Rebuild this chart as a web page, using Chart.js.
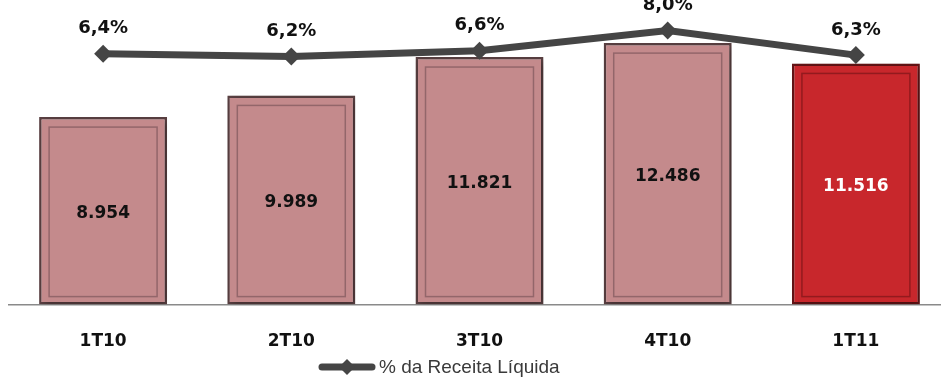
<!DOCTYPE html>
<html>
<head>
<meta charset="utf-8">
<script src="https://cdn.jsdelivr.net/npm/chart.js@4.4.0/dist/chart.umd.min.js"></script>
<style>
  html, body { margin: 0; padding: 0; background: #fff; overflow: hidden; }
  #wrap { position: relative; width: 950px; height: 378px; }
  #legend { position: absolute; left: 318px; top: 356px; height: 22px; display: flex; align-items: center;
    font-family: "Liberation Sans", Arial, sans-serif; font-size: 19px; color: #3a3a3a; }
  #legend canvas { margin-right: 3px; }
</style>
</head>
<body>
<div id="wrap">
  <canvas id="chart" width="950" height="378"></canvas>
  <div id="legend"><canvas id="legendIcon" width="58" height="18"></canvas><span>% da Receita Líquida</span></div>
</div>
<script>
const categories = ['1T10', '2T10', '3T10', '4T10', '1T11'];
const despesas = [8954, 9989, 11821, 12486, 11516];
const percentReceita = [6.4, 6.2, 6.6, 8.0, 6.3];
const lineLabel = '% da Receita Líquida';

const pink = '#c48a8c', pinkEdge = '#5a4042', pinkInner = '#93666a';
const red = '#c8272c', redEdge = '#661416', redInner = '#931a1e';
const barFill = categories.map((c, i) => i === categories.length - 1 ? red : pink);
const barEdge = categories.map((c, i) => i === categories.length - 1 ? redEdge : pinkEdge);
const innerEdge = categories.map((c, i) => i === categories.length - 1 ? redInner : pinkInner);

const fmtThousands = v => String(v).replace(/\B(?=(\d{3})+(?!\d))/g, '.');
const fmtPct = v => v.toFixed(1).replace('.', ',') + '%';

// shadow under the bars + inner frame + labels
const barDecor = {
  id: 'barDecor',
  beforeDatasetDraw(chart, args) {
    if (args.index !== 0) return;
    const ctx = chart.ctx;
    ctx.save();
    ctx.shadowColor = 'rgba(0,0,0,0.35)';
    ctx.shadowBlur = 7;
    ctx.shadowOffsetX = 2;
    ctx.shadowOffsetY = 2;
  },
  afterDatasetDraw(chart, args) {
    if (args.index !== 0) return;
    const ctx = chart.ctx;
    ctx.restore();
    const meta = chart.getDatasetMeta(0);
    meta.data.forEach((bar, i) => {
      const left = bar.x - bar.width / 2, top = bar.y;
      const w = bar.width, h = bar.base - bar.y;
      ctx.save();
      ctx.strokeStyle = innerEdge[i];
      ctx.lineWidth = 1.5;
      ctx.strokeRect(left + 10, top + 10, w - 20, h - 18);
      ctx.restore();
    });
  },
  afterDatasetsDraw(chart) {
    const ctx = chart.ctx;
    ctx.save();
    ctx.textAlign = 'center';
    ctx.textBaseline = 'middle';
    ctx.font = 'bold 17px "DejaVu Sans", Verdana, sans-serif';
    chart.getDatasetMeta(0).data.forEach((bar, i) => {
      ctx.fillStyle = i === categories.length - 1 ? '#ffffff' : '#111111';
      ctx.fillText(fmtThousands(despesas[i]), bar.x, (bar.y + bar.base) / 2 + 3);
    });
    ctx.font = 'bold 18px "DejaVu Sans", Verdana, sans-serif';
    ctx.fillStyle = '#111111';
    chart.getDatasetMeta(1).data.forEach((pt, i) => {
      ctx.fillText(fmtPct(percentReceita[i]), pt.x, pt.y - 25);
    });
    ctx.restore();
  }
};

new Chart(document.getElementById('chart'), {
  data: {
    labels: categories,
    datasets: [{
      type: 'bar',
      label: 'Despesas',
      data: despesas,
      backgroundColor: barFill,
      borderColor: barEdge,
      borderWidth: 2.5,
      borderSkipped: false,
      barPercentage: 0.68,
      categoryPercentage: 1,
      yAxisID: 'y',
      order: 1
    }, {
      type: 'line',
      label: lineLabel,
      data: percentReceita,
      borderColor: '#454545',
      backgroundColor: '#454545',
      borderWidth: 7,
      pointStyle: 'rectRot',
      pointRadius: 9,
      pointBackgroundColor: '#454545',
      pointBorderWidth: 0,
      tension: 0,
      yAxisID: 'y1',
      clip: false,
      order: 0
    }]
  },
  options: {
    responsive: false,
    animation: false,
    layout: { autoPadding: false, padding: { left: 9, right: 0, top: 0, bottom: 7 } },
    plugins: { legend: { display: false }, tooltip: { enabled: false } },
    scales: {
      x: {
        grid: { display: false },
        border: { display: true, color: '#8a8a8a', width: 1.5 },
        ticks: { color: '#111', padding: 19, font: { family: '"DejaVu Sans", Verdana, sans-serif', size: 17, weight: 'bold' } }
      },
      y: { display: false, min: 0, max: 14545 },
      y1: { display: false, min: -10.9, max: 10.1 }
    }
  },
  plugins: [barDecor]
});

// legend sample: thick line with a diamond
const lc = document.getElementById('legendIcon').getContext('2d');
lc.strokeStyle = '#454545';
lc.lineWidth = 7;
lc.lineCap = 'round';
lc.beginPath(); lc.moveTo(4, 9); lc.lineTo(54, 9); lc.stroke();
lc.fillStyle = '#454545';
lc.beginPath(); lc.moveTo(29, 1); lc.lineTo(37, 9); lc.lineTo(29, 17); lc.lineTo(21, 9); lc.closePath(); lc.fill();
</script>
</body>
</html>
